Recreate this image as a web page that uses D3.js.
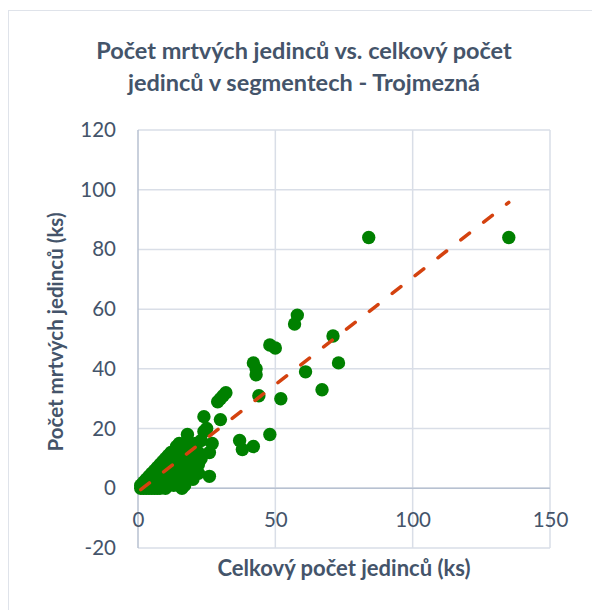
<!DOCTYPE html>
<html>
<head>
<meta charset="utf-8">
<script src="https://cdn.jsdelivr.net/npm/d3@7"></script>
<style>
  body { margin: 0; background: #fff; }
  text { font-family: Lato, "Open Sans", sans-serif; }
</style>
</head>
<body>
<div class="chart"></div>
<script>
// data
var totalCount = [1,1,2,2,2,3,3,3,3,4,4,4,5,5,5,5,6,6,6,6,7,7,7,7,7,8,8,8,8,8,9,9,9,9,9,10,10,10,10,10,10,11,11,11,11,11,12,12,12,12,12,13,13,13,13,13,14,14,14,14,14,15,15,15,15,15,16,16,16,16,16,17,17,17,17,18,18,18,18,19,19,19,20,20,20,21,21,22,22,22,23,23,
  24,25,24,18,26,27,26,30,29,30,31,32,37,38,42,42,43,43,44,48,50,52,48,61,57,58,67,71,73,84,135];
var deadCount = [0,1,0,1,2,0,1,2,3,0,2,4,0,1,3,5,0,2,4,6,0,1,3,5,7,0,2,4,6,8,1,3,5,7,9,0,2,4,6,8,10,1,3,5,9,11,2,4,7,10,12,1,3,6,9,12,2,5,8,11,14,1,4,7,10,15,0,3,6,9,13,1,5,8,12,4,7,11,16,6,10,14,3,7,13,9,15,5,8,12,10,16,
  24,20,19,18,4,15,12,23,29,30,31,32,16,13,14,42,40,38,31,48,47,30,18,39,55,58,33,51,42,84,84];

var xTicks = [0, 50, 100, 150];
var yTicks = [-20, 0, 20, 40, 60, 80, 100, 120];

// linear trendline
var trendSlope = 0.718;
var trendIntercept = -1.2;
var trendRange = [1, 135];

var titleLines = ["Počet mrtvých jedinců vs. celkový počet", "jedinců v segmentech - Trojmezná"];
var xTitle = "Celkový počet jedinců (ks)";
var yTitle = "Počet mrtvých jedinců (ks)";

var svgWidth = 592, svgHeight = 610;
var margin = {top: 130, right: 42, bottom: 62, left: 138};
var width = svgWidth - margin.left - margin.right;
var height = svgHeight - margin.top - margin.bottom;

var textColor = "#44546a";

var svg = d3.select(".chart")
  .append("svg")
  .attr("width", svgWidth)
  .attr("height", svgHeight);

// chart frame
svg.append("rect")
  .attr("x", 8.5).attr("y", 10.5)
  .attr("width", svgWidth + 20).attr("height", svgHeight + 20)
  .attr("fill", "#fff")
  .attr("stroke", "#dfe3ea");

var chartGroup = svg.append("g")
  .attr("transform", `translate(${margin.left}, ${margin.top})`);

var xScale = d3.scaleLinear().domain([0, 150]).range([0, width]);
var yScale = d3.scaleLinear().domain([-20, 120]).range([height, 0]);

// gridlines
chartGroup.append("g")
  .selectAll("line.h")
  .data(yTicks)
  .enter()
  .append("line")
  .attr("x1", 0).attr("x2", width)
  .attr("y1", d => yScale(d)).attr("y2", d => yScale(d))
  .attr("stroke", "#d9dee7")
  .attr("stroke-width", 1.5);

chartGroup.append("g")
  .selectAll("line.v")
  .data(xTicks.slice(1))
  .enter()
  .append("line")
  .attr("x1", d => xScale(d)).attr("x2", d => xScale(d))
  .attr("y1", 0).attr("y2", height)
  .attr("stroke", "#d9dee7")
  .attr("stroke-width", 1.5);

// axes lines
chartGroup.append("line")
  .attr("x1", xScale(0)).attr("x2", xScale(0))
  .attr("y1", 0).attr("y2", height)
  .attr("stroke", "#b7c1d1").attr("stroke-width", 1.5);
chartGroup.append("line")
  .attr("x1", 0).attr("x2", width)
  .attr("y1", yScale(0)).attr("y2", yScale(0))
  .attr("stroke", "#b7c1d1").attr("stroke-width", 1.5);

// tick labels
var leftAxis = d3.axisLeft(yScale).tickValues(yTicks).tickSize(0).tickPadding(22)
  .tickFormat(d => String(d));
var yAxisG = chartGroup.append("g").call(leftAxis);
yAxisG.select(".domain").remove();
yAxisG.selectAll("text")
  .attr("fill", textColor)
  .style("font-size", "20.5px")
  .style("font-family", "Lato, sans-serif");

var bottomAxis = d3.axisBottom(xScale).tickValues(xTicks).tickSize(0).tickPadding(24)
  .tickFormat(d => String(d));
var xAxisG = chartGroup.append("g")
  .attr("transform", `translate(0, ${yScale(0)})`)
  .call(bottomAxis);
xAxisG.select(".domain").remove();
xAxisG.selectAll("text")
  .attr("fill", textColor)
  .style("font-size", "20.5px")
  .style("font-family", "Lato, sans-serif");

// points
var points = totalCount.map((t, i) => ({x: t, y: deadCount[i]}));
chartGroup.append("g")
  .selectAll("circle")
  .data(points)
  .enter()
  .append("circle")
  .attr("cx", d => xScale(d.x))
  .attr("cy", d => yScale(d.y))
  .attr("r", 6.7)
  .attr("fill", "#008000");

// trendline
chartGroup.append("line")
  .attr("x1", xScale(trendRange[0]))
  .attr("y1", yScale(trendSlope * trendRange[0] + trendIntercept))
  .attr("x2", xScale(trendRange[1]))
  .attr("y2", yScale(trendSlope * trendRange[1] + trendIntercept))
  .attr("stroke", "#d4420f")
  .attr("stroke-width", 3.5)
  .attr("stroke-linecap", "round")
  .attr("stroke-dasharray", "11,18");

// titles
svg.append("g")
  .selectAll("text")
  .data(titleLines)
  .enter()
  .append("text")
  .attr("x", 304)
  .attr("y", (d, i) => 59 + i * 32)
  .attr("text-anchor", "middle")
  .attr("fill", textColor)
  .style("font-size", "23.5px")
  .style("font-weight", "bold")
  .text(d => d);

svg.append("text")
  .attr("x", margin.left + width / 2)
  .attr("y", 576)
  .attr("text-anchor", "middle")
  .attr("fill", textColor)
  .style("font-size", "22px")
  .style("font-weight", "bold")
  .text(xTitle);

svg.append("text")
  .attr("transform", "rotate(-90)")
  .attr("x", -332)
  .attr("y", 63)
  .attr("text-anchor", "middle")
  .attr("fill", textColor)
  .style("font-size", "20.5px")
  .style("font-weight", "bold")
  .text(yTitle);
</script>
</body>
</html>
